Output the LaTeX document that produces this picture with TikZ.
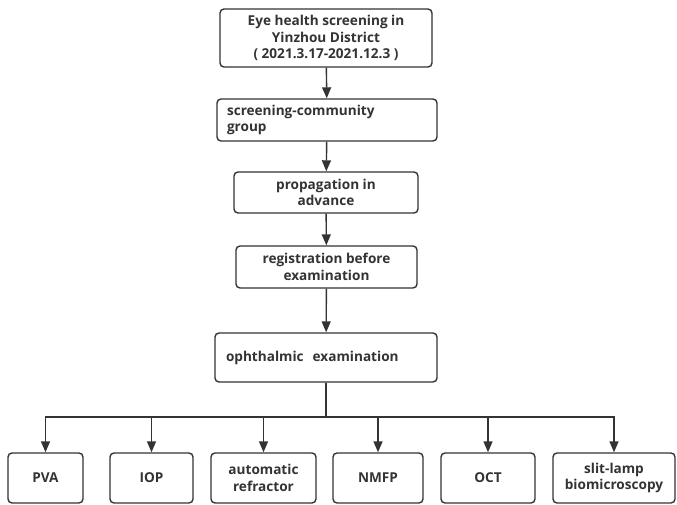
\documentclass[tikz,border=0pt]{standalone}
\usepackage{fontspec}
\setmainfont{Open Sans}
\usetikzlibrary{arrows.meta}

\definecolor{ink}{HTML}{333333}
\tikzset{
  box/.style={rectangle, rounded corners=4pt, draw=ink, line width=1.4pt, align=center,
    text=ink, font=\bfseries\fontsize{13.6}{16.7}\selectfont},
  flow/.style={-{Triangle[length=11pt,width=9pt]}, line width=1.4pt, ink},
}

\begin{document}
\begin{tikzpicture}[x=1pt,y=-1pt]
				\useasboundingbox (0,0) rectangle (677,505);

				\node[box, minimum width=212pt, minimum height=58pt] (screen) at (326,38) {Eye health screening in\\Yinzhou District\\( 2021.3.17-2021.12.3 )};
				\node[box, minimum width=220pt, minimum height=42pt, text width=200pt, align=left] (group) at (327,120) {screening-community\\group};
				\node[box, minimum width=184pt, minimum height=41pt] (advance) at (326,192.5) {propagation in\\advance};
				\node[box, minimum width=181pt, minimum height=42pt] (register) at (326.5,267) {registration before\\examination};
				\node[box, minimum width=222pt, minimum height=49pt, text width=200pt, align=left] (exam) at (326,357.5) {ophthalmic\ \ examination};

				\node[box, minimum width=75pt, minimum height=50pt] (pva) at (45.5,478) {PVA};
				\node[box, minimum width=83pt, minimum height=50pt] (iop) at (151.5,478) {IOP};
				\node[box, minimum width=105pt, minimum height=50pt] (refr) at (263.5,478) {automatic\\refractor};
				\node[box, minimum width=90pt, minimum height=50pt] (nmfp) at (378,478) {NMFP};
				\node[box, minimum width=94pt, minimum height=50pt] (oct) at (488,478) {OCT};
				\node[box, minimum width=122pt, minimum height=50pt] (slit) at (614,478) {slit-lamp\\biomicroscopy};

				\coordinate (bus) at (326,417);

				\draw[flow] (screen) -- (group);
				\draw[flow] (group) -- (advance);
				\draw[flow] (advance) -- (register);
				\draw[flow] (register) -- (exam);

				\foreach \n in {pva,iop,refr,nmfp,oct,slit}
					\draw[flow] (exam.south) -- (bus) -| (\n.north);
\end{tikzpicture}
\end{document}
